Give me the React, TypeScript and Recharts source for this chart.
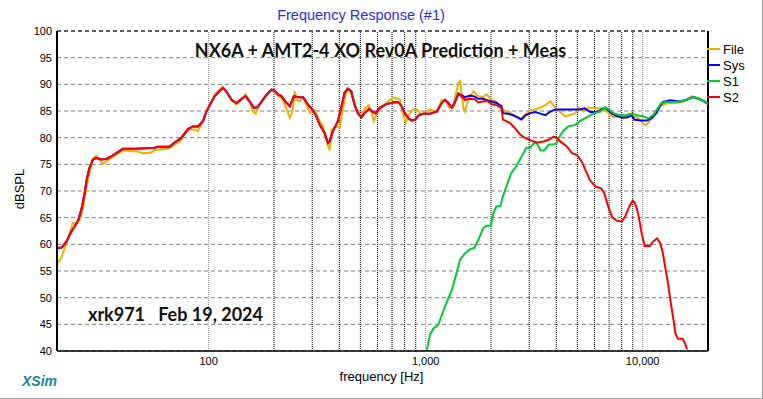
import { LineChart, Line, XAxis, YAxis, CartesianGrid, ReferenceLine } from 'recharts';

// File (measured) response
const FILE_FREQ = [
  20, 20.9, 21.7, 23.7, 24.5, 25.4, 26.3, 27.3, 28.2, 29.3, 30.3, 31.4, 32.5, 33.7, 35.6, 37.5, 40.2,
  47.2, 49.8, 54.5, 56.4, 64.9, 69.6, 73.7, 77.5, 81.6, 86.1, 89.2, 92.3, 99.5, 106.6, 115.8, 120.9,
  127.5, 134.5, 141.8, 147.9, 154.8, 160.2, 164.8, 168.8, 177.8, 191.3, 200, 208.8, 216.4, 228.6, 236.7,
  243.6, 249, 253.4, 263, 272.2, 281.9, 292.6, 308, 324.6, 336.7, 349.6, 361, 368, 382, 402, 416.8,
  432.4, 448.4, 465.2, 482, 500, 523, 546, 562, 576, 592, 614, 648, 684, 720, 762, 788, 810, 838, 874,
  911, 954, 1004, 1046, 1126, 1186, 1241, 1286, 1342, 1415, 1440, 1494, 1517, 1572, 1658, 1746, 1840,
  1908, 2010, 2120, 2234, 2324, 2440, 2580, 2720, 2880, 3030, 3190, 3376, 3558, 3758, 3960, 4170, 4394,
  4632, 4890, 5052, 5324, 5612, 5940, 6252, 6540, 6972, 7332, 7728, 8140, 8580, 9040, 9530, 9980,
  10320, 10780, 11360, 12000, 12620, 13360, 14340, 15120, 15900, 16840, 17760, 18720, 20000,
];
const FILE_DB = [
  56.4, 57.4, 59.3, 64.0, 63.8, 64.6, 66.5, 70.5, 73.4, 75.9, 76.6, 75.9, 75.1, 75.5, 76.2, 76.8, 77.6,
  77.4, 77.1, 77.2, 77.7, 77.9, 78.7, 79.3, 80.6, 81.6, 81.5, 81.2, 82.4, 85.6, 88.1, 89.6, 88.6,
  87.0, 86.2, 87.1, 88.1, 86.8, 84.8, 84.5, 85.6, 87.1, 88.8, 88.8, 87.8, 87.5, 85.3, 83.7,
  84.9, 88.7, 87.1, 86.8, 87.5, 86.2, 84.6, 85.1, 83.1, 82.1, 79.3, 77.6, 81.5, 82.1, 81.9, 85.6,
  89.0, 89.0, 86.8, 84.9, 84.0, 85.3, 86.1, 84.9, 83.1, 84.3, 85.3, 86.2, 87.1, 87.5, 87.1, 84.3, 82.8, 84.3, 85.3,
  85.3, 84.3, 84.9, 85.3, 84.8, 87.1, 86.8, 85.6, 86.2, 90.3, 90.6, 85.5, 84.9, 87.1, 88.7, 87.8, 87.6,
  88.1, 87.1, 86.7, 85.6, 84.9, 84.8, 84.0, 83.4, 84.3, 85.1, 85.3, 85.6, 86.1, 86.8, 85.6, 84.8, 84.0,
  84.3, 84.6, 85.6, 84.9, 85.6, 85.6, 85.5, 85.5, 84.6, 83.8, 84.2, 83.7, 84.5, 84.0, 83.7, 82.8,
  82.3, 83.1, 84.3, 85.9, 86.3, 86.5, 86.5, 86.7, 87.0, 87.8, 87.3, 87.0, 86.3,
];

// S2 (woofer) response
const S2_FREQ = [
  20, 21, 22.1, 23.3, 24.1, 25.1, 26.0, 26.8, 27.4, 28.2, 29.3, 30.3, 32.0, 33.7, 35.6, 37.5, 40.2,
  46.4, 56.4, 58.4, 66.0, 69.6, 74.6, 80.2, 84.5, 89.2, 94.2, 97.6, 106.6, 112.6, 116.6, 120.9, 127.5,
  134.5, 141.8, 147.9, 154.8, 161.5, 167.2, 175, 184.5, 194.7, 200, 208.8, 216.4, 228.6, 236.7, 247,
  258.6, 272.2, 287, 302.6, 313.4, 324.6, 342, 354.8, 361, 373.6, 394, 408, 422.6, 438, 454, 470, 487,
  505, 523, 548, 568, 588, 614, 660, 708, 746, 774, 802, 831, 862, 895, 928, 978, 1046, 1126, 1186,
  1229, 1272, 1320, 1350, 1414, 1440, 1517, 1602, 1686, 1746, 1840, 1920, 2010, 2120, 2234, 2270,
  2440, 2580, 2720, 2880, 3086, 3260, 3496, 3690, 3892, 4028, 4170, 4460, 4720, 4970, 5240, 5520,
  5700, 6060, 6436, 6666, 6900, 7230, 7620, 8020, 8300, 8680, 9000, 9220, 9440, 9712, 9880, 10220,
  10780, 11160, 11640, 12060, 12400, 12760, 13080, 13420, 13800, 14160, 14540, 15260, 15640, 16020,
];
const S2_DB = [
  59.3, 59.4, 60.5, 62.4, 63.3, 64.6, 66.8, 69.6, 72.1, 74.3, 75.9, 76.2, 75.9, 76.0, 76.5, 77.1, 77.9,
  77.9, 78.1, 78.3, 78.3, 79.1, 79.9, 81.6, 82.1, 82.1, 83.1, 84.9, 87.8, 88.8, 89.3, 88.6, 87.1,
  86.5, 87.3, 87.8, 86.7, 85.6, 85.7, 86.7, 88.0, 89.0, 88.9, 88.1, 87.8, 86.5, 85.9, 87.8,
  87.6, 87.6, 86.2, 85.1, 84.0, 82.4, 80.9, 79.0, 79.3, 81.2, 83.1, 85.6, 88.4, 89.2, 88.7, 86.2, 84.6,
  83.8, 84.6, 85.4, 84.9, 84.6, 85.6, 86.3, 86.6, 86.7, 85.9, 84.6, 83.7, 83.2, 83.4, 84.2, 84.5, 84.5, 84.9, 86.5,
  87.1, 86.5, 85.6, 86.2, 88.1, 88.0, 87.1, 87.3, 87.2, 86.6, 86.8, 86.9, 86.3, 86.1, 85.6, 83.4,
  82.8, 81.8, 80.6, 79.9, 79.4, 79.1, 79.3, 79.6, 80.2, 79.9, 79.3, 78.4, 77.1, 76.8, 75.5, 73.4,
  72.1, 70.8, 70.5, 69.5, 67.4, 65.1, 64.4, 64.3, 65.2, 67.1, 68.2, 67.7, 66.5, 64.0, 62.1, 59.7,
  59.7, 60.5, 61.1, 60.2, 58.3, 55.2, 52.7, 49.5, 46.4, 43.3, 42.3, 42.3, 41.5, 40.3,
];

// Sys (summed) response, follows S2 below 1.4 kHz
const SYS_FREQ = [
  1414, 1517, 1602, 1686, 1746, 1840, 1920, 2010, 2120, 2234, 2270, 2392, 2526, 2664, 2766, 2880, 3030,
  3190, 3376, 3558, 3758, 3960, 4460, 5140, 5400, 5740, 6160, 6540, 6720, 7230, 7620, 8020, 8460, 8900,
  9140, 9712, 10460, 11040, 11560, 12000, 12400, 13400, 14880, 15900, 17140, 18160, 19240, 20000,
];
const SYS_DB = [
  88.3, 87.6, 87.9, 87.7, 87.3, 87.3, 87.0, 86.8, 86.5, 85.9, 84.6, 84.5, 84.2, 83.8, 83.4, 84.2, 84.6,
  84.8, 84.5, 84.2, 84.9, 85.3, 85.3, 85.3, 85.5, 84.8, 84.8, 85.4, 85.6, 84.5, 84.0, 83.8, 83.8, 84.2,
  83.4, 83.2, 83.2, 83.7, 84.6, 85.9, 86.7, 87.0, 86.8, 87.1, 87.6, 87.3, 86.8, 86.3,
];

// S1 (tweeter) response
const S1_FREQ = [
  1000, 1046, 1084, 1142, 1186, 1252, 1320, 1388, 1440, 1517, 1602, 1674, 1746, 1840, 1908, 1994, 2050,
  2120, 2212, 2270, 2370, 2480, 2612, 2720, 2824, 2906, 3030, 3136, 3220, 3316, 3376, 3520, 3690, 3892,
  4028, 4136, 4292, 4540, 4890, 5140, 5520, 5940, 6380, 6720, 6972, 7332, 7880, 8460, 8900, 9380,
  10040, 10600, 11160, 11760, 12200, 12830, 13800, 14880, 15900, 17140, 18160, 19240, 20000,
];
const S1_DB = [
  39.0, 43.0, 44.2, 44.9, 46.7, 49.2, 51.4, 54.6, 57.1, 58.3, 59.1, 59.3, 60.8, 63.0, 63.5, 63.5, 65.8,
  67.1, 67.2, 69.0, 71.2, 73.4, 74.6, 75.9, 77.1, 78.1, 78.1, 78.9, 79.1, 78.4, 77.6, 77.6, 78.7, 78.7,
  79.1, 80.2, 81.2, 82.1, 82.4, 83.1, 83.8, 84.5, 84.9, 85.7, 85.3, 84.6, 84.2, 84.2, 84.5, 84.2,
  84.0, 83.6, 84.2, 85.6, 86.5, 86.7, 86.7, 86.8, 87.1, 87.6, 87.3, 86.8, 86.3,
];

const X_TICKS = [100, 1000, 10000];
const Y_TICKS = [40, 45, 50, 55, 60, 65, 70, 75, 80, 85, 90, 95, 100];
const GRID_DECADE = [100, 1000, 10000];
const GRID_MINOR = [200, 300, 400, 500, 600, 700, 800, 900, 2000, 3000, 4000, 5000, 6000, 7000, 8000, 9000];
const Y_MINOR = Array.from({ length: 49 }, (_, i) => 40 + i * 1.25);

const zip = (f: number[], v: number[]) => f.map((x, i) => ({ f: x, db: v[i] }));

const fileData = zip(FILE_FREQ, FILE_DB);
const s2Data = zip(S2_FREQ, S2_DB);
const sysData = [...zip(S2_FREQ, S2_DB).filter((d) => d.f < SYS_FREQ[0]), ...zip(SYS_FREQ, SYS_DB)];
const s1Data = zip(S1_FREQ, S1_DB);

const SERIES = [
  { name: 'File', color: '#f0b000' },
  { name: 'Sys', color: '#0000ff' },
  { name: 'S1', color: '#00cc33' },
  { name: 'S2', color: '#ff0000' },
];

const SANS = '"Liberation Sans", Arial, sans-serif';

export default function App() {
  return (
    <div
      style={{
        position: 'absolute',
        left: 0,
        top: 0,
        width: 763,
        height: 399,
        background: '#fff',
        boxSizing: 'border-box',
        borderRight: '1px solid #a0a0a0',
        borderBottom: '1px solid #a0a0a0',
        fontFamily: SANS,
        overflow: 'hidden',
      }}
    >
      <LineChart width={763} height={399} data={fileData} margin={{ top: 31, right: 55, left: 0, bottom: 0 }}>
        <CartesianGrid vertical={false} stroke="#808080" strokeDasharray="4 3" />
        <XAxis
          dataKey="f"
          type="number"
          scale="log"
          domain={[20, 20000]}
          allowDataOverflow
          ticks={X_TICKS}
          tickFormatter={(v: number) => v.toLocaleString('en-US')}
          height={48}
          tickLine={false}
          tickSize={0}
          tickMargin={6}
          axisLine={{ stroke: '#000', strokeWidth: 1.5 }}
          tick={{ fill: '#000', fontSize: 11, fontFamily: SANS }}
        />
        <YAxis
          type="number"
          domain={[40, 100]}
          allowDataOverflow
          ticks={Y_TICKS}
          width={57}
          tickLine={false}
          tickSize={0}
          tickMargin={5}
          axisLine={{ stroke: '#000', strokeWidth: 2 }}
          tick={{ fill: '#000', fontSize: 11, fontFamily: SANS }}
        />
        <YAxis
          yAxisId="minor"
          type="number"
          domain={[40, 100]}
          allowDataOverflow
          ticks={Y_MINOR}
          mirror
          tick={false}
          tickSize={4}
          tickLine={{ stroke: '#000' }}
          axisLine={false}
        />
        {GRID_DECADE.map((f) => (
          <ReferenceLine key={'d' + f} x={f} stroke="#888" strokeDasharray="1 1" />
        ))}
        {GRID_MINOR.map((f) => (
          <ReferenceLine key={'m' + f} x={f} stroke="#000" strokeDasharray="1 1" />
        ))}
        <ReferenceLine y={100} stroke="#000" strokeDasharray="4 3" />
        <ReferenceLine x={20000} stroke="#000" strokeWidth={2} />
        <Line data={fileData} dataKey="db" stroke={SERIES[0].color} strokeWidth={2} dot={false} isAnimationActive={false} />
        <Line data={sysData} dataKey="db" stroke={SERIES[1].color} strokeWidth={2} dot={false} isAnimationActive={false} />
        <Line data={s1Data} dataKey="db" stroke={SERIES[2].color} strokeWidth={2} dot={false} isAnimationActive={false} />
        <Line data={s2Data} dataKey="db" stroke={SERIES[3].color} strokeWidth={2} dot={false} isAnimationActive={false} />
      </LineChart>

      <div style={{ position: 'absolute', left: 0, width: 722, top: 7, textAlign: 'center', color: '#2b2bff', fontSize: 14.5 }}>
        Frequency Response (#1)
      </div>
      <div
        style={{
          position: 'absolute',
          left: 0,
          width: 761,
          top: 39,
          textAlign: 'center',
          fontFamily: 'Lato, sans-serif',
          fontWeight: 700,
          fontSize: 18,
          color: '#111',
        }}
      >
        NX6A + AMT2-4 XO Rev0A Prediction + Meas
      </div>
      <div
        style={{
          position: 'absolute',
          left: 88,
          top: 303,
          fontFamily: 'Lato, sans-serif',
          fontWeight: 700,
          fontSize: 18,
          color: '#111',
          whiteSpace: 'pre',
        }}
      >
        {'xrk971   Feb 19, 2024'}
      </div>
      <div
        style={{
          position: 'absolute',
          left: 0,
          top: 179,
          width: 44,
          height: 20,
          transform: 'rotate(-90deg)',
          fontSize: 13,
          textAlign: 'center',
          color: '#000',
        }}
      >
        dBSPL
      </div>
      <div style={{ position: 'absolute', left: 0, width: 763, top: 369, textAlign: 'center', fontSize: 13, color: '#000' }}>
        frequency [Hz]
      </div>
      <div
        style={{
          position: 'absolute',
          left: 22,
          top: 373,
          fontSize: 14,
          fontWeight: 700,
          fontStyle: 'italic',
          color: '#16898e',
        }}
      >
        XSim
      </div>
      {SERIES.map((s, i) => (
        <div key={s.name} style={{ position: 'absolute', left: 707, top: 41 + i * 16, height: 16, display: 'flex', alignItems: 'center' }}>
          <div style={{ width: 13, height: 2, background: s.color }} />
          <span style={{ marginLeft: 3, fontSize: 13, color: '#000' }}>{s.name}</span>
        </div>
      ))}
    </div>
  );
}
